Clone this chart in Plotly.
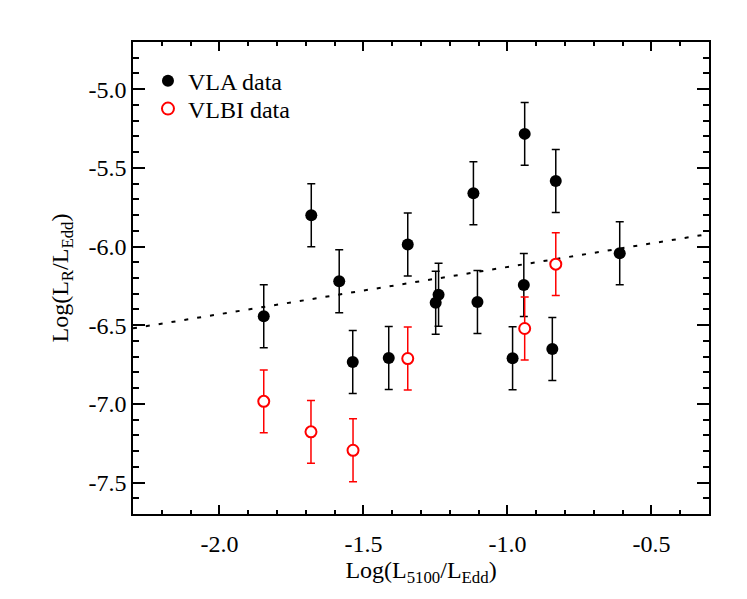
import plotly.graph_objects as go

# VLA points (filled black)
vla_x = [-1.846, -1.681, -1.584, -1.537, -1.412, -1.346, -1.249, -1.239,
         -1.104, -1.118, -0.982, -0.943, -0.940, -0.844, -0.832, -0.610]
vla_y = [-6.443, -5.801, -6.221, -6.734, -6.708, -5.987, -6.357, -6.306,
         -6.352, -5.661, -6.710, -6.244, -5.284, -6.651, -5.583, -6.043]
vla_err = [0.2] * len(vla_x)

# VLBI points (open red)
vlbi_x = [-1.846, -1.682, -1.536, -1.346, -0.940, -0.832]
vlbi_y = [-6.984, -7.178, -7.295, -6.712, -6.521, -6.112]
vlbi_err = [0.2] * len(vlbi_x)

# dotted fit line
fit_x = [-2.3, -0.3]
fit_y = [-6.52, -5.92]

# tick labels (plain hyphen as in the original)
x_ticks = [-2.0, -1.5, -1.0, -0.5]
x_labels = ["-2.0", "-1.5", "-1.0", "-0.5"]
y_ticks = [-7.5, -7.0, -6.5, -6.0, -5.5, -5.0]
y_labels = ["-7.5", "-7.0", "-6.5", "-6.0", "-5.5", "-5.0"]

font = "Liberation Serif"

fig = go.Figure()

fig.add_trace(go.Scatter(x=fit_x, y=fit_y, mode="lines", showlegend=False,
                         line=dict(color="black", width=2, dash="4px,9px"),
                         hoverinfo="skip"))

fig.add_trace(go.Scatter(
    x=vla_x, y=vla_y, mode="markers", name="VLA data", legend="legend",
    marker=dict(color="black", size=12),
    error_y=dict(type="data", array=vla_err, color="black", thickness=1.5, width=4)))

fig.add_trace(go.Scatter(
    x=vlbi_x, y=vlbi_y, mode="markers", name="VLBI data", legend="legend2",
    marker=dict(color="white", size=11, line=dict(color="red", width=2)),
    error_y=dict(type="data", array=vlbi_err, color="red", thickness=1.5, width=4)))

axis_common = dict(showgrid=False, zeroline=False, showline=True, linecolor="black",
                   linewidth=1.5, mirror="allticks", ticks="inside", tickcolor="black",
                   tickwidth=1.5, automargin=False,
                   tickfont=dict(family=font, size=24, color="black"))

fig.update_xaxes(range=[-2.3, -0.3], tickvals=x_ticks, ticktext=x_labels, ticklen=9,
                 ticklabelstandoff=7,
                 minor=dict(ticks="inside", dtick=0.1, tick0=0, ticklen=4.5,
                            tickcolor="black", tickwidth=1.5),
                 title=dict(text="Log(L<sub>5100</sub>/L<sub>Edd</sub>)",
                            font=dict(family=font, size=24, color="black"), standoff=2),
                 **axis_common)
fig.update_yaxes(range=[-7.7, -4.7], tickvals=y_ticks, ticktext=y_labels, ticklen=12,
                 minor=dict(ticks="inside", dtick=0.1, tick0=0, ticklen=6,
                            tickcolor="black", tickwidth=1.5),
                 title=dict(text="Log(L<sub>R</sub>/L<sub>Edd</sub>)",
                            font=dict(family=font, size=24, color="black"), standoff=13),
                 **axis_common)

legend_common = dict(xanchor="left", yanchor="middle", borderwidth=0,
                     font=dict(family=font, size=24, color="black"),
                     bgcolor="rgba(0,0,0,0)", itemsizing="constant")

# page body adds 8px offset, so the figure is 8px smaller and margins shifted
fig.update_layout(
    width=739, height=591,
    margin=dict(l=125, r=38, t=34, b=85),
    plot_bgcolor="white", paper_bgcolor="white",
    font=dict(family=font, color="black"),
    legend=dict(x=0.026, y=0.917, **legend_common),
    legend2=dict(x=0.026, y=0.858, **legend_common),
)

fig.write_html("out.html")
